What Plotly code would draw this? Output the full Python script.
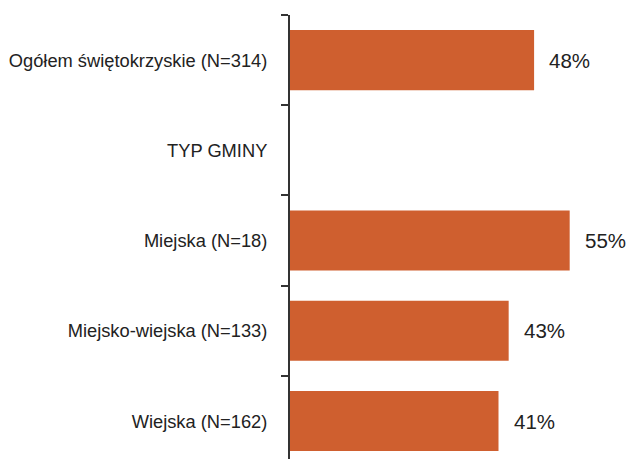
import plotly.graph_objects as go

categories = ["Ogółem świętokrzyskie (N=314)", "TYP GMINY", "Miejska (N=18)",
              "Miejsko-wiejska (N=133)", "Wiejska (N=162)"]
values = [48, None, 55, 43, 41]
labels = ["48%", "", "55%", "43%", "41%"]

bar_color = "#CF5F2F"
font_family = "Liberation Sans, Arial, sans-serif"

fig = go.Figure()
fig.add_trace(go.Bar(
    y=categories, x=values, orientation="h",
    marker=dict(color=bar_color, line=dict(width=0)),
    width=0.665, hoverinfo="skip"
))

for c, v, t in zip(categories, values, labels):
    if v is None:
        continue
    fig.add_annotation(x=v, y=c, text=t, showarrow=False, xanchor="left",
                       xshift=13, font=dict(size=20.5, color="#222222", family=font_family))

fig.update_layout(
    width=627, height=459,
    margin=dict(l=290, r=0, t=15, b=0, autoexpand=False),
    paper_bgcolor="white", plot_bgcolor="white",
    showlegend=False,
    font=dict(family=font_family, color="#222222", size=18.3),
    xaxis=dict(range=[0, 66.27], visible=False, fixedrange=True),
    yaxis=dict(
        categoryorder="array", categoryarray=categories,
        range=[4.42, -0.5], automargin=False, fixedrange=True,
        showline=True, linecolor="#333333", linewidth=2,
        ticks="outside", tickson="boundaries", ticklen=7, tickwidth=2, tickcolor="#333333",
        ticklabelstandoff=17,
        showgrid=False, zeroline=False,
        tickfont=dict(size=18.3, color="#222222"),
    ),
)

fig.write_html("out.html", config={"displayModeBar": False},
               post_script="document.body.style.margin='0';document.body.style.overflow='hidden';")
